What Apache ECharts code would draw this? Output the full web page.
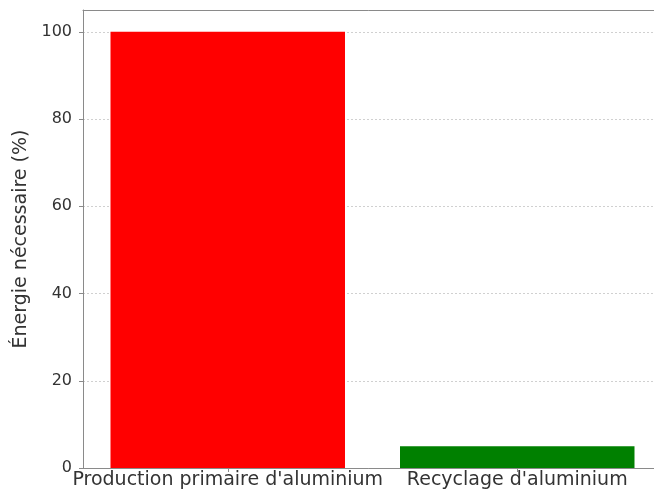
<!DOCTYPE html>
<html>
<head>
<meta charset="utf-8">
<script src="https://cdn.jsdelivr.net/npm/echarts@6/dist/echarts.min.js"></script>
<style>
  html, body { margin: 0; padding: 0; background: #ffffff; }
  #chart { width: 654px; height: 496px; }
</style>
</head>
<body>
<div id="chart"></div>
<script>
// Energy required: primary production vs. recycling of aluminium
const categories = ["Production primaire d'aluminium", "Recyclage d'aluminium"];
const energyValues = [100, 5];
const barColors = ['#ff0000', '#008000'];
const yTicks = [0, 20, 40, 60, 80, 100];
const yAxisName = 'Énergie nécessaire (%)';

const FONT = 'DejaVu Sans';
const SPINE = '#8a8a8a';
const chart = echarts.init(document.getElementById('chart'), null, { renderer: 'canvas' });

chart.setOption({
  animation: false,
  backgroundColor: '#ffffff',
  grid: {
    left: 83, top: 10, width: 579, height: 458,
    outerBoundsMode: 'none',
    containLabel: false,
    show: false
  },
  xAxis: [{
    type: 'category',
    data: categories,
    axisLine: { show: true, lineStyle: { color: SPINE, width: 1 } },
    axisTick: { show: true, alignWithLabel: true, length: 4, lineStyle: { color: SPINE } },
    axisLabel: { color: '#333333', fontFamily: FONT, fontSize: 19, margin: 3, interval: 0 },
    splitLine: { show: false }
  }, {
    // top spine
    type: 'category',
    position: 'top',
    data: categories,
    axisLine: { show: true, lineStyle: { color: SPINE, width: 1 } },
    axisTick: { show: false },
    axisLabel: { show: false },
    splitLine: { show: false }
  }],
  yAxis: {
    type: 'value',
    min: 0,
    max: 105,
    interval: 20,
    name: yAxisName,
    nameLocation: 'middle',
    nameGap: 51,
    nameTextStyle: { color: '#333333', fontFamily: FONT, fontSize: 19 },
    axisLine: { show: true, lineStyle: { color: SPINE, width: 1 } },
    axisTick: { show: true, length: 4, customValues: yTicks, lineStyle: { color: SPINE } },
    axisLabel: {
      color: '#333333', fontFamily: FONT, fontSize: 16, margin: 11,
      customValues: yTicks,
      formatter: v => (yTicks.indexOf(v) >= 0 ? String(v) : '')
    },
    splitLine: { show: true, lineStyle: { color: '#d0d0d0', type: [2, 2], width: 1 } }
  },
  series: [{
    type: 'bar',
    xAxisIndex: 0,
    barWidth: '81%',
    data: energyValues.map((v, i) => ({ value: v, itemStyle: { color: barColors[i] } }))
  }]
});
</script>
</body>
</html>
